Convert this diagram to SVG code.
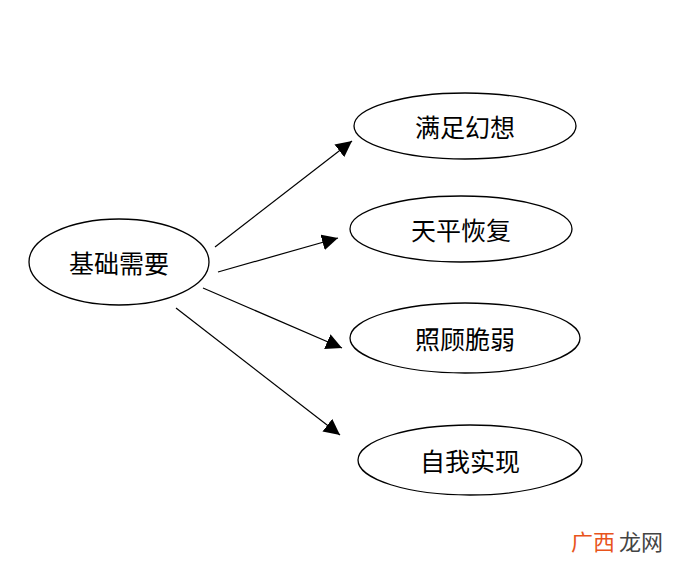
<svg xmlns="http://www.w3.org/2000/svg" width="700" height="569" viewBox="0 0 700 569">
<defs>
<style>
ellipse{fill:#fff;stroke:#000;stroke-width:1.3}
text{font-family:"Noto Sans CJK SC",sans-serif;font-size:25px;text-anchor:middle;dominant-baseline:central;fill:#000}
line{stroke:#000;stroke-width:1.2;marker-end:url(#a)}
</style>
<marker id="a" viewBox="0 0 10 10" refX="10" refY="5" markerWidth="16" markerHeight="16" markerUnits="userSpaceOnUse" orient="auto"><path d="M0,0L10,5L0,10z" fill="#000"/></marker>
</defs>
<rect width="700" height="569" fill="#fff"/>
<g id="connectors">
<line x1="215" y1="247" x2="352" y2="141"/>
<line x1="218" y1="272" x2="338" y2="238"/>
<line x1="203" y1="288" x2="342" y2="348"/>
<line x1="176" y1="308" x2="340" y2="435"/>
</g>
<g id="n0"><ellipse cx="119" cy="262" rx="90" ry="43"/><text x="119" y="262">基础需要</text></g>
<g id="n1"><ellipse cx="465" cy="126" rx="111" ry="33"/><text x="465" y="126">满足幻想</text></g>
<g id="n2"><ellipse cx="461" cy="229" rx="111" ry="33"/><text x="461" y="229">天平恢复</text></g>
<g id="n3"><ellipse cx="465" cy="338" rx="115" ry="35"/><text x="465" y="338">照顾脆弱</text></g>
<g id="n4"><ellipse cx="470" cy="460" rx="112" ry="35"/><text x="470" y="460">自我实现</text></g>
<text x="593" y="540" style="font-size:22px;fill:#e8541c">广西</text>
<text x="641" y="540" style="font-size:22px;fill:#444">龙网</text>
</svg>
